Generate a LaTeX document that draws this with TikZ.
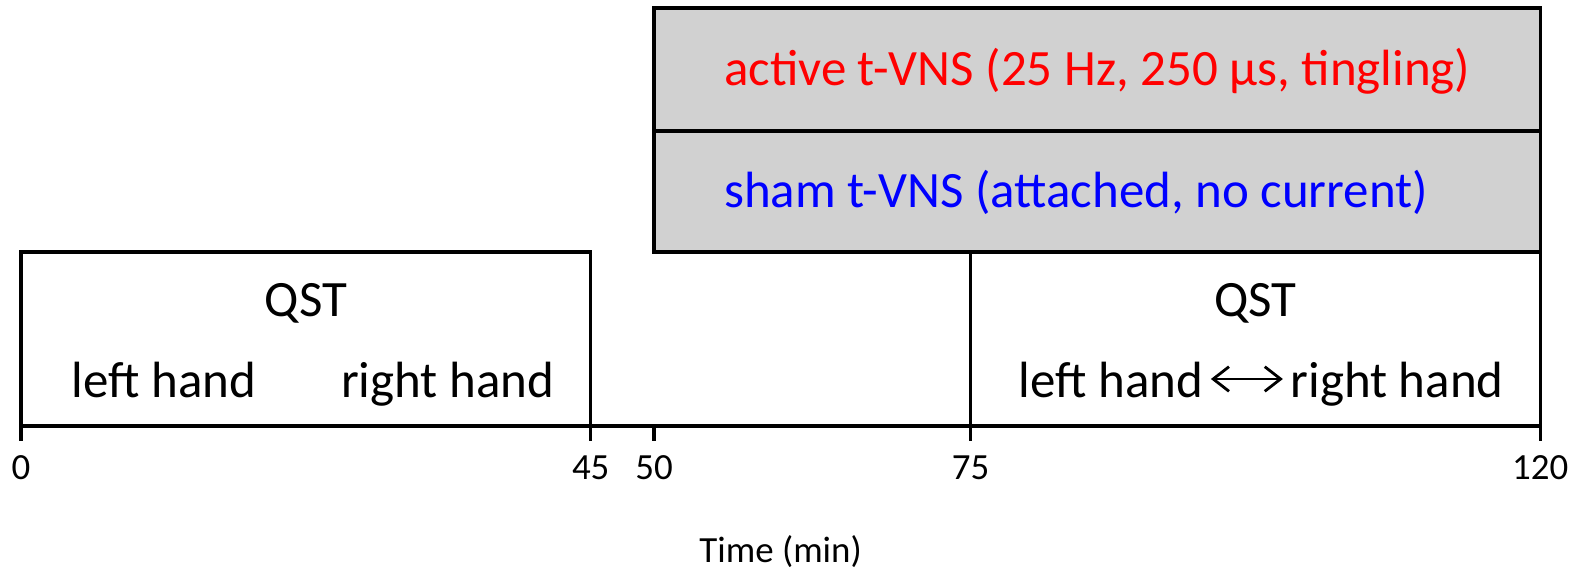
\documentclass[tikz,border=0pt]{standalone}
\usepackage{fontspec}
\setmainfont{Carlito}
\usetikzlibrary{positioning,arrows.meta}

\begin{document}
\begin{tikzpicture}[x=0.1266cm, y=1cm,
		box/.style={draw, line width=0.9pt},
		stim/.style={box, fill=black!18},
		txt/.style={font=\fontsize{14.5}{17}\selectfont, inner sep=1pt, anchor=base},
		axtick/.style={line width=0.9pt},
		ticklabel/.style={font=\fontsize{10.5}{12}\selectfont, inner sep=1pt}]
		\useasboundingbox (-1.66,-1.42) rectangle (123.38,4.26);
		% stimulation, 50 to 120 min
		\draw[stim] (50,2.95) rectangle (120,4.18);
		\draw[stim] (50,1.74) rectangle (120,2.95);
		\node(active) [txt, anchor=base west, text=red]  at (55.2,3.41) {active t-VNS (25 Hz, 250 µs, tingling)};
		\node(sham)   [txt, anchor=base west, text=blue] at (55.2,2.19) {sham t-VNS (attached, no current)};
		% QST before and after
		\draw[box] (0,0) rectangle (45,1.74);
		\draw[box] (75,0) rectangle (120,1.74);
		\node(qst1) [txt] at (22.5,1.10) {QST};
		\node(lh1)  [txt] at (11.3,0.29) {left hand};
		\node(rh1)  [txt] at (33.7,0.29) {right hand};
		\node(qst2) [txt] at (97.5,1.10) {QST};
		\node(lh2)  [txt] at (86.1,0.29) {left hand};
		\node(rh2)  [txt, base right=0.79cm of lh2] {right hand};
		\draw[{Straight Barb[length=4.5pt,width=7pt]}-{Straight Barb[length=4.5pt,width=7pt]}, line width=0.8pt, shorten <=1pt, shorten >=1pt]
			([yshift=0.18cm]lh2.base east) -- ([yshift=0.18cm]rh2.base west);
		% time axis
		\draw[line width=1.2pt] (0,0) -- (120,0);
		\foreach \t in {0,45,50,75,120} {
			\draw[axtick] (\t,0) -- (\t,-0.15);
			\node(t\t) [ticklabel] at (\t,-0.42) {\t};
		}
		\node(time) [ticklabel] at (60,-1.26) {Time (min)};
	\end{tikzpicture}
\end{document}
